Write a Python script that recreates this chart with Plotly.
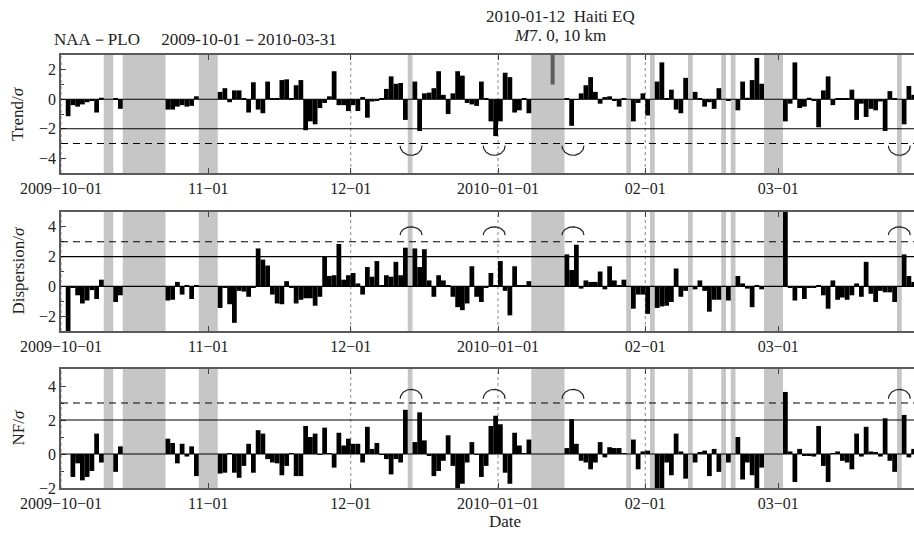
import numpy as np
import pandas as pd
import plotly.graph_objects as go

N = None
# ---------------- data (daily values, 2009-10-01 .. 2010-03-31) ----------------
dates = pd.date_range("2009-10-01", "2010-03-31", freq="D")

trend = [
    N, -1.15, -0.4, -0.5, -0.35, -0.2, -0.1, -0.9, 0.1, N,
    N, 0.05, -0.65, N, N, N, N, N, N, N,
    N, N, -0.7, -0.7, -0.5, -0.4, -0.5, -0.45, 0.2, N,
    N, N, N, 0.5, 0.75, -0.2, 0.6, 0.6, 0.05, -0.9,
    1.15, -0.7, -0.95, 1.2, 0.05, 0.05, 1.3, 1.35, 0.05, 0.95,
    1.3, -2.1, -1.5, -1.7, -0.6, -0.25, 0.2, 1.9, -0.4, -0.4,
    -0.8, -0.4, -0.8, 0.15, -1.25, -0.15, -0.1, 0.05, 0.7, 1.55,
    1.05, 1.1, -1.4, N, 1.2, -2.15, 0.4, 0.45, 0.75, 1.9,
    0.3, -1.0, 0.4, 1.9, 1.6, -0.25, -0.35, -0.45, 1.2, 0.05,
    -1.5, -2.5, -1.5, 1.8, 1.5, -0.9, -0.75, 0.05, -0.95, N,
    N, N, N, N, N, N, 0.05, -1.8, -0.05, 0.4,
    0.95, 1.5, 0.5, -0.3, 0.15, 0.2, -0.1, -0.5, 0.05, N,
    -1.5, -0.25, 0.4, -1.1, N, 1.2, 2.5, 0.05, 0.65, -0.7,
    -0.95, 1.45, N, 0.5, 0.05, -0.5, -0.2, -0.65, 0.75, N,
    -0.1, N, -0.75, 1.2, 0.1, 1.3, 2.8, 1.05, N, N,
    N, N, -1.5, -0.3, 2.5, -0.6, -0.5, 0.1, -0.1, -1.9,
    0.6, 1.55, -0.4, 0.05, 0.05, 0.05, 0.65, -1.4, -0.3, -1.2,
    -0.65, -0.75, -0.15, -2.15, 0.55, 0.05, N, -1.7, 0.9, 0.3,
    N, N,
]

dispersion = [
    N, -3.2, -0.05, -0.6, -1.15, -0.95, -0.25, -0.85, 0.45, N,
    N, -1.05, -0.6, N, N, N, N, N, N, N,
    N, N, -0.95, -0.9, 0.3, -0.55, 0.05, -0.85, 0.05, N,
    N, N, N, -1.45, -0.05, -1.2, -2.45, -0.3, -0.35, -0.7,
    -0.1, 2.55, 1.8, 1.4, -0.55, -1.15, -1.2, 0.35, -0.1, -1.15,
    -0.9, -0.8, -0.8, -1.3, -0.7, 2.0, 0.7, 0.75, 2.85, 0.45,
    0.75, 0.9, 0.2, -0.55, 1.3, 0.65, 1.7, 0.05, 0.75, 0.65,
    1.65, 0.75, 2.6, N, 2.55, 1.3, 2.5, 0.4, -0.7, 0.75,
    0.4, 0.05, -0.7, -1.4, -1.6, -1.15, 1.35, -0.7, -1.05, -0.05,
    0.9, 0.05, 1.7, -0.3, -1.95, 1.35, 0.05, 0.05, 0.35, N,
    N, N, N, N, N, N, 2.15, 1.1, 2.8, -0.15,
    0.4, 0.3, 0.3, 1.0, -0.2, 1.35, 0.4, 0.05, 0.45, N,
    -1.5, -0.55, -0.55, -1.85, N, -1.45, -1.35, -1.3, -1.05, 1.2,
    -0.7, -0.3, N, -0.2, 0.4, -0.3, -1.7, -0.9, -0.9, N,
    -0.95, N, 0.7, 0.2, -0.15, -1.4, 0.05, -0.2, N, N,
    N, N, 5.2, -0.1, -0.95, -0.1, -0.85, -0.1, -0.05, 0.05,
    -0.6, -1.5, 0.4, -0.9, -0.75, -0.9, -0.6, 0.2, -0.7, 1.65,
    -0.5, -1.05, -0.3, -0.4, -0.4, -1.05, N, 2.15, 0.7, 0.3,
    N, N,
]

nf = [
    N, N, -1.35, -0.55, -1.55, -1.35, -1.0, 1.2, -0.5, N,
    N, -1.05, 0.45, N, N, N, N, N, N, N,
    N, N, 0.9, 0.65, -0.55, 0.6, -0.15, 0.45, -1.3, N,
    N, N, N, -1.15, -1.1, 0.05, -1.1, -1.4, -0.7, 0.6,
    -1.1, 1.4, 1.2, -0.3, -0.5, -0.55, -1.25, -0.7, 0.05, -1.3,
    -1.3, 1.65, 1.0, 1.2, -0.05, 1.55, 0.05, -0.8, 1.25, 0.5,
    0.9, 0.6, 0.6, -0.5, 1.6, 0.3, 0.65, -0.05, -0.3, -1.2,
    -0.3, -0.5, 2.6, N, 0.7, 2.45, 0.8, -0.1, -1.3, -1.0,
    -0.4, 1.1, -0.7, -2.0, -1.75, -0.5, 0.7, -0.05, -1.35, -0.7,
    1.65, 2.25, 1.75, -1.1, -1.75, 1.25, 0.5, 0.05, 0.85, N,
    N, N, N, N, N, N, 0.35, 2.05, 0.6, -0.4,
    -0.5, -0.9, -0.5, 0.7, -0.2, 0.4, 0.35, 0.35, 0.05, N,
    0.85, -0.9, 0.15, 0.2, N, -2.1, -2.1, -0.5, -1.25, 1.2,
    0.15, -1.45, N, -0.5, 0.1, 0.2, -1.3, 0.3, -1.05, N,
    -0.5, N, 1.0, -1.5, -0.5, -1.25, -2.1, -0.8, N, N,
    N, N, 3.65, 0.15, -1.65, 0.3, -0.1, -0.1, -0.15, 1.65,
    -0.7, -1.65, 0.05, 0.15, -0.4, -0.5, -0.9, 1.2, -0.15, 1.6,
    0.15, 0.1, -0.15, 2.1, -0.4, -1.05, N, 2.3, -0.2, 0.3,
    N, N,
]

# missing-data periods (inclusive day ranges), shown as grey bands
gap_ranges = [
    ("2009-10-10", "2009-10-11"), ("2009-10-14", "2009-10-22"),
    ("2009-10-30", "2009-11-02"), ("2009-12-13", "2009-12-13"),
    ("2010-01-08", "2010-01-14"), ("2010-01-28", "2010-01-28"),
    ("2010-02-02", "2010-02-02"), ("2010-02-10", "2010-02-10"),
    ("2010-02-17", "2010-02-17"), ("2010-02-19", "2010-02-19"),
    ("2010-02-26", "2010-03-01"), ("2010-03-26", "2010-03-26"),
]

eq_date = "2010-01-12"
eq_span = [1.0, 3.0]
anomaly_dates = ["2009-12-13 17:00", "2009-12-31 05:00", "2010-01-16 19:00", "2010-03-26 12:00"]

month_ticks = ["2009-10-01", "2009-11-01", "2009-12-01", "2010-01-01", "2010-02-01", "2010-03-01"]
month_labels = ["2009\u221210\u221201", "11\u221201", "12\u221201", "2010\u221201\u221201", "02\u221201", "03\u221201"]

panel_titles = ["Trend/<i>\u03c3</i>", "Dispersion/<i>\u03c3</i>", "NF/<i>\u03c3</i>"]
panel_values = [trend, dispersion, nf]
y_ranges = [[-5, 3], [-3, 5], [-2, 5]]
y_ticks = [[-4, -2, 0, 2], [-2, 0, 2, 4], [-2, 0, 2, 4]]
solid_levels = [-2, 2, 2]
dashed_levels = [-3, 3, 3]
arc_base = [-3.15, 3.45, 3.25]
arc_height = [-0.65, 0.55, 0.55]

# ---------------- layout geometry ----------------
W, H = 914, 534
FONT = "Liberation Serif"
TXT = "#222222"
def py(p):
    return 1 - p / H

x_dom = [61 / W, 1.0]
panel_px = [(55, 173), (212, 331), (369, 488)]
x_start = pd.Timestamp("2009-10-01")
x_end = (x_start + pd.Timedelta(days=(914 - 61) / 4.75)).round("s")
day = pd.Timedelta(days=1)

fig = go.Figure()
shapes = []
annotations = []

for i in range(3):
    k = "" if i == 0 else str(i + 1)
    xa, ya = "x" + k, "y" + k
    vals = panel_values[i]
    fig.add_trace(go.Bar(
        x=dates + pd.Timedelta(hours=12), y=vals, width=86400000,
        marker=dict(color="black", line=dict(width=0)),
        xaxis=xa, yaxis=ya, showlegend=False, hoverinfo="skip"))

    # dotted month grid lines (drawn first, below bands)
    for m in month_ticks:
        shapes.append(dict(type="line", xref=xa, yref=ya + " domain", x0=m, x1=m, y0=0, y1=1,
                           line=dict(color="#8a8a8a", width=1, dash="dot"), layer="below"))
    # grey bands
    for g0, g1 in gap_ranges:
        shapes.append(dict(type="rect", xref=xa, yref=ya + " domain",
                           x0=g0, x1=(pd.Timestamp(g1) + day).strftime("%Y-%m-%d"), y0=0, y1=1,
                           fillcolor="#c6c6c6", line=dict(width=0), layer="below"))
    # reference lines
    for lev, dash in [(0, "solid"), (solid_levels[i], "solid"), (dashed_levels[i], "7px,5px")]:
        shapes.append(dict(type="line", xref=xa + " domain", yref=ya, x0=0, x1=1, y0=lev, y1=lev,
                           line=dict(color="black", width=1.2, dash=dash), layer="above"))
    # anomaly arcs
    t = np.linspace(0, np.pi, 40)
    for c in anomaly_dates:
        cx = pd.Timestamp(c)
        ax_x = [(cx + pd.Timedelta(days=2.3 * np.cos(tt))).round("s") for tt in t]
        ax_y = arc_base[i] + arc_height[i] * np.sin(t)
        fig.add_trace(go.Scatter(x=ax_x, y=ax_y, mode="lines", line=dict(color="#222", width=1.2),
                                 xaxis=xa, yaxis=ya, showlegend=False, hoverinfo="skip"))

    top, bot = panel_px[i]
    fig.update_layout(**{
        ("xaxis" + k): dict(domain=x_dom, anchor=ya, type="date", range=[x_start, x_end],
                            tickvals=month_ticks, ticktext=month_labels, ticks="inside", ticklen=5,
                            tickcolor="#444", tickfont=dict(family=FONT, size=16, color=TXT),
                            showgrid=False, showline=True, linecolor="#5a5a5a", linewidth=1.5,
                            mirror="allticks", zeroline=False, fixedrange=True, automargin=False),
        ("yaxis" + k): dict(domain=[py(bot), py(top)], anchor=xa, range=y_ranges[i],
                            tickvals=y_ticks[i], ticks="inside", ticklen=5, tickcolor="#444",
                            minor=dict(dtick=1, ticks="inside", ticklen=3, tickcolor="#444"),
                            tickfont=dict(family=FONT, size=16, color=TXT),
                            showgrid=False, zeroline=False, showline=True, linecolor="#5a5a5a",
                            linewidth=1.5, mirror=False, fixedrange=True, automargin=False),
    })
    annotations.append(dict(text=panel_titles[i], x=18 / W, y=py((top + bot) / 2), xref="paper",
                            yref="paper", textangle=-90, showarrow=False, xanchor="center",
                            yanchor="middle", font=dict(family=FONT, size=17, color=TXT)))

# earthquake marker
eq_x = pd.Timestamp(eq_date) + pd.Timedelta(hours=12)
fig.add_trace(go.Scatter(x=[eq_x, eq_x], y=eq_span, mode="lines",
                         line=dict(color="#5c5c5c", width=4), xaxis="x", yaxis="y",
                         showlegend=False, hoverinfo="skip"))

annotations += [
    dict(text="NAA\uff0dPLO\u3000 2009-10-01\uff0d2010-03-31", x=52 / W, y=py(40), xanchor="left"),
    dict(text="2010-01-12\u2002Haiti EQ", x=560 / W, y=py(17), xanchor="center"),
    dict(text="<i>M</i>7. 0, 10 km", x=560 / W, y=py(36), xanchor="center"),
    dict(text="Date", x=505 / W, y=py(521), xanchor="center"),
]
for a in annotations[3:]:
    a.update(xref="paper", yref="paper", showarrow=False, yanchor="middle",
             font=dict(family=FONT, size=17, color=TXT))

fig.update_layout(width=W, height=H, margin=dict(l=0, r=0, t=0, b=0, autoexpand=False),
                  paper_bgcolor="white", plot_bgcolor="white", barmode="overlay",
                  shapes=shapes, annotations=annotations, showlegend=False)

fig.write_html("out.html")
